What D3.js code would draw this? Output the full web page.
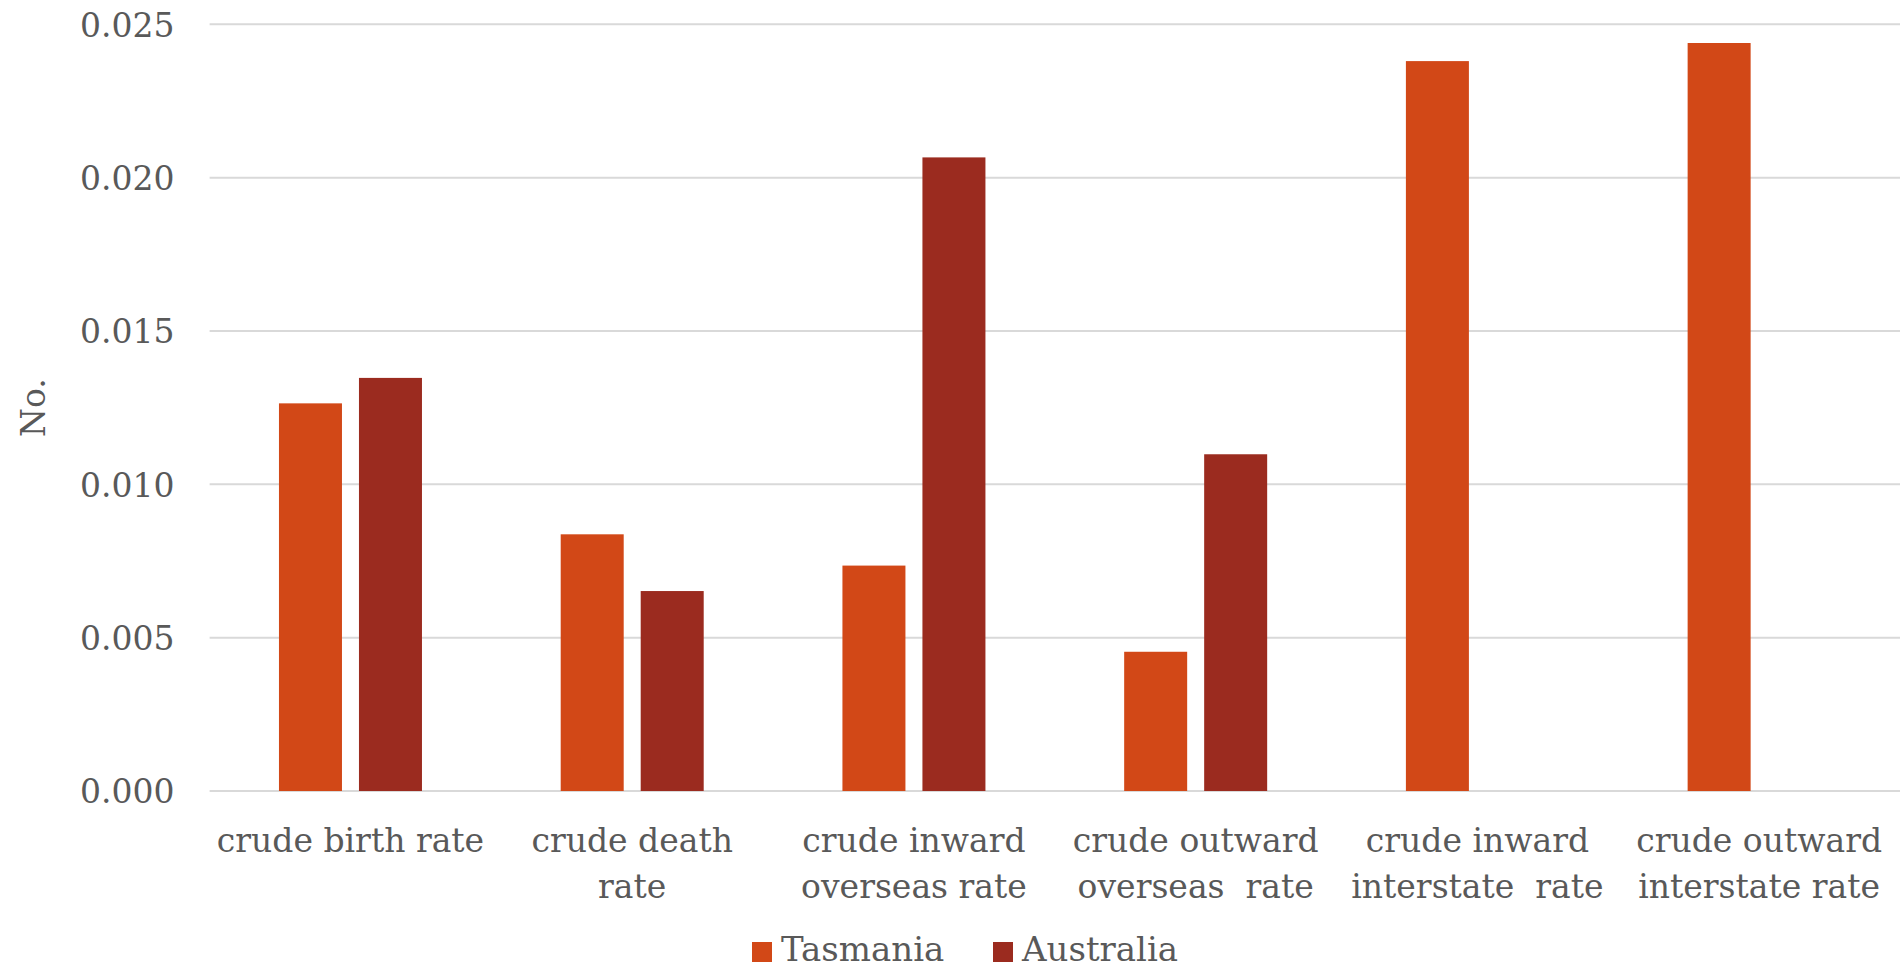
<!DOCTYPE html>
<html>
<head>
<meta charset="utf-8">
<script src="https://cdn.jsdelivr.net/npm/d3@7"></script>
<style>
  html, body { margin: 0; padding: 0; background: #fff; }
  svg { display: block; }
  text { font-family: "DejaVu Serif", serif; fill: #595959; }
</style>
</head>
<body>
<svg id="chart" width="1900" height="969"></svg>
<script>
const categories = [
  "crude birth rate",
  "crude death rate",
  "crude inward overseas rate",
  "crude outward overseas rate",
  "crude inward interstate rate",
  "crude outward interstate rate"
];
const categoryLines = [
  ["crude birth rate"],
  ["crude death", "rate"],
  ["crude inward", "overseas rate"],
  ["crude outward", "overseas\u00a0\u00a0rate"],
  ["crude inward", "interstate\u00a0\u00a0rate"],
  ["crude outward", "interstate rate"]
];
const seriesNames = ["Tasmania", "Australia"];
const tasmania = [0.01264, 0.00837, 0.00735, 0.00454, 0.02380, 0.02439];
const australia = [0.01347, 0.00652, 0.02066, 0.01098, null, null];
const yTicks = [0, 0.005, 0.010, 0.015, 0.020, 0.025];
const colors = ["#D24817", "#9B2B1F"];

const svg = d3.select("#chart");
const m = { left: 209.6, right: 1900, top: 24.3, bottom: 791 };

const x = d3.scaleBand().domain(categories).range([m.left, m.right]).paddingInner(0).paddingOuter(0);
const y = d3.scaleLinear().domain([0, 0.025]).range([m.bottom, m.top]);

const barW = 63, gap = 17;

// y axis labels
const yAxis = d3.axisLeft(y).tickValues(yTicks).tickFormat(d3.format(".3f")).tickSize(0).tickPadding(0);
const gAxis = svg.append("g").attr("transform", `translate(${m.left},0)`).call(yAxis);
gAxis.select(".domain").remove();
gAxis.selectAll("text")
  .attr("x", -35)
  .attr("dy", "0.36em")
  .style("font-size", "33px")
  .style("font-family", "'DejaVu Serif', serif")
  .attr("fill", "#595959");

// gridlines
svg.append("g").selectAll("line").data(yTicks).join("line")
  .attr("x1", m.left).attr("x2", m.right)
  .attr("y1", d => y(d)).attr("y2", d => y(d))
  .attr("stroke", "#d9d9d9").attr("stroke-width", 2);

// bars
const data = [];
categories.forEach((c, i) => {
  [tasmania[i], australia[i]].forEach((v, j) => {
    if (v != null) data.push({ c, s: seriesNames[j], v, j });
  });
});

svg.append("g").selectAll("rect").data(data).join("rect")
  .attr("x", d => {
    const cx = x(d.c) + x.bandwidth() / 2;
    return d.j === 0 ? cx - gap / 2 - barW : cx + gap / 2;
  })
  .attr("y", d => y(d.v))
  .attr("width", barW)
  .attr("height", d => y(0) - y(d.v))
  .attr("fill", d => colors[d.j]);

// category labels
const xl = svg.append("g");
categories.forEach((c, i) => {
  const cx = x(c) + x.bandwidth() / 2;
  const t = xl.append("text")
    .attr("x", cx)
    .attr("text-anchor", "middle")
    .style("font-size", "33px");
  categoryLines[i].forEach((line, k) => {
    t.append("tspan").attr("x", cx).attr("y", 852 + k * 46).text(line);
  });
});

// y axis title
svg.append("text")
  .attr("transform", `translate(45,${(m.top + m.bottom) / 2}) rotate(-90)`)
  .attr("text-anchor", "middle")
  .style("font-size", "33px")
  .text("No.");

// legend
const legend = svg.append("g");
const legendItems = [{ name: seriesNames[0], x: 752 }, { name: seriesNames[1], x: 993 }];
legendItems.forEach((it, i) => {
  legend.append("rect").attr("x", it.x).attr("y", 942).attr("width", 20).attr("height", 20).attr("fill", colors[i]);
  legend.append("text").attr("x", it.x + 29).attr("y", 961).style("font-size", "34px").text(it.name);
});
</script>
</body>
</html>
